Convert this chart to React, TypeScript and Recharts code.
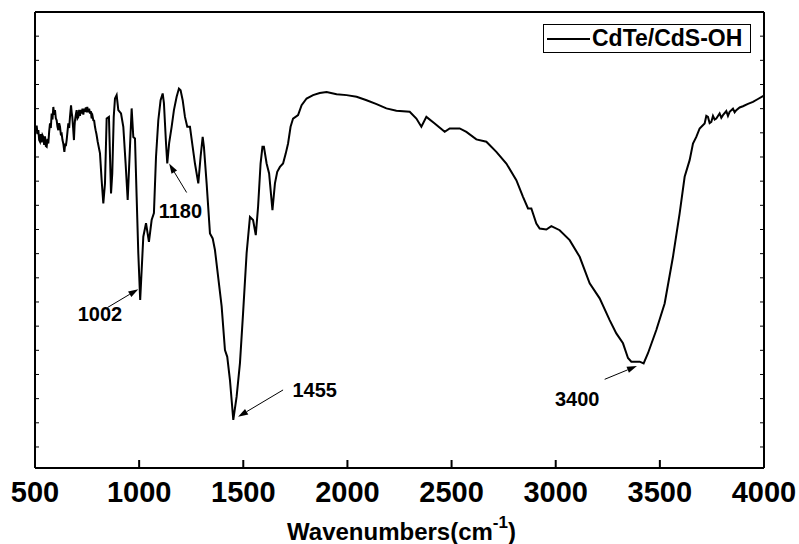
import React from "react";
import {
  LineChart,
  Line,
  XAxis,
  YAxis,
  Legend,
  ReferenceLine,
  ReferenceDot,
} from "recharts";

// FTIR spectrum (arbitrary transmittance units)
const wavenumbers = [
  500, 504, 508, 512, 516, 520, 524, 528, 532, 536,
  540, 544, 548, 552, 556, 560, 564, 568, 572, 576,
  580, 584, 588, 592, 596, 600, 604, 608, 612, 616,
  620, 624, 628, 632, 636, 641, 645, 648, 652, 656,
  660, 664, 668, 673, 676, 679, 683, 687, 690, 692,
  696, 700, 704, 708, 712, 716, 720, 724, 728, 732,
  736, 740, 744, 748, 751, 755, 760, 764, 768, 772,
  776, 780, 784, 788, 791, 795, 801, 812, 820, 828,
  836, 844, 855, 865, 871, 878, 884, 892, 900, 913,
  924, 935, 945, 956, 964, 972, 980, 988, 996, 1005,
  1020, 1033, 1047, 1060, 1071, 1081, 1092, 1103, 1113, 1119,
  1129, 1135, 1144, 1156, 1167, 1180, 1191, 1199, 1209, 1220,
  1231, 1244, 1257, 1268, 1284, 1295, 1305, 1311, 1324, 1340,
  1353, 1364, 1380, 1396, 1412, 1423, 1436, 1452, 1468, 1484,
  1499, 1516, 1532, 1547, 1560, 1571, 1583, 1592, 1599, 1612,
  1624, 1640, 1652, 1663, 1676, 1691, 1704, 1715, 1727, 1739,
  1763, 1780, 1804, 1835, 1867, 1900, 1948, 1996, 2044, 2092,
  2140, 2187, 2235, 2299, 2331, 2355, 2379, 2419, 2467, 2491,
  2539, 2571, 2619, 2667, 2715, 2763, 2811, 2843, 2867, 2883,
  2907, 2923, 2955, 2979, 3019, 3067, 3115, 3163, 3211, 3259,
  3291, 3323, 3347, 3363, 3403, 3422, 3443, 3483, 3523, 3563,
  3595, 3619, 3643, 3659, 3675, 3691, 3715, 3723, 3731, 3739,
  3747, 3755, 3763, 3771, 3787, 3795, 3803, 3819, 3827, 3835,
  3851, 3859, 3867, 3883, 3899, 3923, 3947, 3971, 3995, 4000,
];

const transmittance = [
  13.32, 13.05, 13.3, 12.95, 13.11, 12.7, 12.63, 12.95, 12.6, 12.9,
  12.83, 12.5, 12.85, 12.45, 12.42, 12.75, 12.56, 13.05, 13.39, 13.2,
  13.8, 13.55, 14.07, 13.75, 13.94, 13.6, 13.52, 13.25, 13.11, 13.4,
  13.25, 12.95, 12.97, 12.7, 12.55, 12.21, 12.55, 12.45, 12.7, 13.05,
  13.39, 13.2, 13.66, 14.14, 13.85, 13.66, 13.2, 12.7, 13.3, 13.52,
  13.75, 13.94, 13.6, 13.66, 13.95, 13.7, 13.95, 13.8, 14.0, 13.75,
  14.0, 13.87, 14.05, 13.85, 14.07, 13.85, 14.0, 13.8, 13.9, 13.6,
  13.7, 13.52, 13.5, 13.25, 13.11, 12.95, 12.63, 12.15, 11.04, 10.08,
  10.91, 13.59, 13.66, 10.49, 11.32, 13.66, 14.42, 14.56, 13.94, 13.8,
  13.25, 11.73, 10.22, 12.42, 14.01, 12.83, 12.77, 10.35, 8.01, 6.08,
  8.7, 9.26, 8.49, 9.39, 9.68, 12.01, 13.52, 14.35, 14.63, 14.23,
  12.57, 11.73, 12.57, 13.25, 13.94, 14.49, 14.83, 14.76, 14.35, 13.66,
  13.25, 13.25, 12.42, 11.73, 10.91, 12.01, 12.83, 12.42, 10.91, 8.84,
  8.63, 8.15, 6.99, 5.83, 4.01, 3.73, 2.77, 1.12, 2.08, 3.47,
  5.54, 8.02, 9.52, 9.39, 8.77, 9.94, 11.73, 12.42, 12.42, 11.73,
  11.32, 9.8, 10.91, 11.39, 11.59, 11.73, 12.15, 12.56, 13.25, 13.59,
  13.73, 14.14, 14.42, 14.56, 14.65, 14.69, 14.6, 14.56, 14.49, 14.35,
  14.19, 14.01, 13.91, 13.87, 13.59, 13.25, 13.66, 13.39, 13.04, 13.18,
  13.18, 13.04, 12.73, 12.63, 12.21, 11.73, 11.04, 10.35, 9.87, 9.87,
  9.25, 9.04, 9.0, 9.14, 8.97, 8.56, 7.87, 6.77, 6.15, 5.25,
  4.7, 4.29, 3.68, 3.53, 3.53, 3.46, 3.88, 4.84, 5.94, 7.87,
  9.67, 11.18, 11.87, 12.56, 12.83, 13.18, 13.39, 13.7, 13.66, 13.4,
  13.45, 13.7, 13.55, 13.59, 13.8, 13.62, 13.73, 13.9, 13.7, 13.87,
  14.0, 13.85, 13.94, 14.05, 14.1, 14.2, 14.28, 14.4, 14.52, 14.54,
];

const xTicks = [500, 1000, 1500, 2000, 2500, 3000, 3500, 4000];
const yTicks = [0, 1, 2, 3, 4, 5, 6, 7, 8, 9, 10, 11, 12, 13, 14, 15, 16, 17];

// peak labels: label anchor, arrow tail, arrow head (data coords)
const peakLabels = ["1002", "1180", "1455", "3400"];
const labelPos = [
  [812, 5.21],
  [1198, 9.47],
  [1843, 2.08],
  [3103, 1.7],
];
const arrowTail = [
  [848, 5.77],
  [1228, 10.53],
  [1691, 2.36],
  [3235, 2.8],
];
const arrowHead = [
  [996, 6.53],
  [1144, 11.73],
  [1475, 1.25],
  [3390, 3.35],
];

const seriesName = "CdTe/CdS-OH";

const data = wavenumbers.map((w, i) => ({ wn: w, t: transmittance[i] }));

const FONT = "'Liberation Sans', Arial, sans-serif";

function Arrow(props: any) {
  const { x1, y1, x2, y2 } = props;
  const ang = Math.atan2(y2 - y1, x2 - x1);
  const len = 10;
  const half = 3.2;
  const bx = x2 - len * Math.cos(ang);
  const by = y2 - len * Math.sin(ang);
  const px = -Math.sin(ang) * half;
  const py = Math.cos(ang) * half;
  return (
    <g>
      <line x1={x1} y1={y1} x2={bx} y2={by} stroke="#000" strokeWidth={1} />
      <polygon
        points={`${x2},${y2} ${bx + px},${by + py} ${bx - px},${by - py}`}
        fill="#000"
      />
    </g>
  );
}

function BottomTick(props: any) {
  const { x, y, payload } = props;
  return (
    <g>
      <line x1={x} y1={468} x2={x} y2={460} stroke="#000" strokeWidth={2} />
      <text
        x={x}
        y={y + 34}
        textAnchor="middle"
        fontFamily={FONT}
        fontWeight="bold"
        fontSize={29}
        fill="#000"
      >
        {payload.value}
      </text>
    </g>
  );
}

function LeftTick(props: any) {
  const { x, y } = props;
  return <line x1={x} y1={y} x2={x + 4} y2={y} stroke="#000" strokeWidth={1} />;
}

function RightTick(props: any) {
  const { x, y } = props;
  return <line x1={x} y1={y} x2={x - 4} y2={y} stroke="#000" strokeWidth={1} />;
}

function AxisTitle(props: any) {
  const vb = props.viewBox || { x: 35, y: 468, width: 729 };
  return (
    <text
      x={vb.x + vb.width / 2 + 2}
      y={vb.y + 72}
      textAnchor="middle"
      fontFamily={FONT}
      fontWeight="bold"
      fontSize={24}
      fill="#000"
    >
      Wavenumbers(cm
      <tspan fontSize={17} dy={-12}>
        -1
      </tspan>
      <tspan dy={12}>)</tspan>
    </text>
  );
}

function LegendBox() {
  return (
    <div
      style={{
        boxSizing: "border-box",
        width: 208,
        height: 29,
        border: "1px solid #000",
        background: "#fff",
        display: "flex",
        alignItems: "center",
        fontFamily: FONT,
        fontWeight: "bold",
        fontSize: 23,
        color: "#000",
        whiteSpace: "nowrap",
        overflow: "visible",
      }}
    >
      <svg width={45} height={10} style={{ marginLeft: 3, flex: "none" }}>
        <line x1={0} y1={5} x2={43} y2={5} stroke="#000" strokeWidth={2} />
      </svg>
      <span>{seriesName}</span>
    </div>
  );
}

export default function App() {
  return (
    <div style={{ position: "absolute", left: 0, top: 0, background: "#fff" }}>
      <LineChart
        width={799}
        height={544}
        data={data}
        margin={{ top: 11, right: 34, bottom: 75, left: 34 }}
      >
        <XAxis
          xAxisId="b"
          dataKey="wn"
          type="number"
          domain={[500, 4000]}
          ticks={xTicks}
          allowDataOverflow
          height={1}
          tickSize={0}
          tickMargin={0}
          tickLine={false}
          tick={<BottomTick />}
          axisLine={{ stroke: "#000", strokeWidth: 2 }}
          label={<AxisTitle />}
          interval={0}
        />
        <XAxis
          xAxisId="t"
          orientation="top"
          type="number"
          domain={[500, 4000]}
          allowDataOverflow
          height={1}
          tick={false}
          tickLine={false}
          axisLine={{ stroke: "#000", strokeWidth: 2 }}
        />
        <YAxis
          yAxisId="l"
          type="number"
          domain={[-0.87, 18]}
          ticks={yTicks}
          allowDataOverflow
          width={1}
          tickSize={0}
          tickMargin={0}
          tickLine={false}
          tick={<LeftTick />}
          axisLine={{ stroke: "#000", strokeWidth: 2 }}
          interval={0}
        />
        <YAxis
          yAxisId="r"
          orientation="right"
          type="number"
          domain={[-0.87, 18]}
          ticks={yTicks}
          allowDataOverflow
          width={1}
          tickSize={0}
          tickMargin={0}
          tickLine={false}
          tick={<RightTick />}
          axisLine={{ stroke: "#000", strokeWidth: 2 }}
          interval={0}
        />
        <Legend
          layout="horizontal"
          verticalAlign="middle"
          align="center"
          wrapperStyle={{ left: 543, top: 24, width: 208, height: 29 }}
          content={() => <LegendBox />}
        />
        <Line
          xAxisId="b"
          yAxisId="l"
          type="linear"
          dataKey="t"
          name={seriesName}
          stroke="#000"
          strokeWidth={2}
          dot={false}
          isAnimationActive={false}
        />
        {peakLabels.map((lab, i) => (
          <ReferenceLine
            key={"a" + lab}
            xAxisId="b"
            yAxisId="l"
            segment={[
              { x: arrowTail[i][0], y: arrowTail[i][1] },
              { x: arrowHead[i][0], y: arrowHead[i][1] },
            ]}
            ifOverflow="visible"
            shape={(p: any) => <Arrow {...p} />}
          />
        ))}
        {peakLabels.map((lab, i) => (
          <ReferenceDot
            key={"l" + lab}
            xAxisId="b"
            yAxisId="l"
            x={labelPos[i][0]}
            y={labelPos[i][1]}
            r={0}
            ifOverflow="visible"
            shape={(p: any) => (
              <text
                x={p.cx}
                y={p.cy}
                textAnchor="middle"
                fontFamily={FONT}
                fontWeight="bold"
                fontSize={20}
                fill="#000"
              >
                {lab}
              </text>
            )}
          />
        ))}
      </LineChart>
    </div>
  );
}
